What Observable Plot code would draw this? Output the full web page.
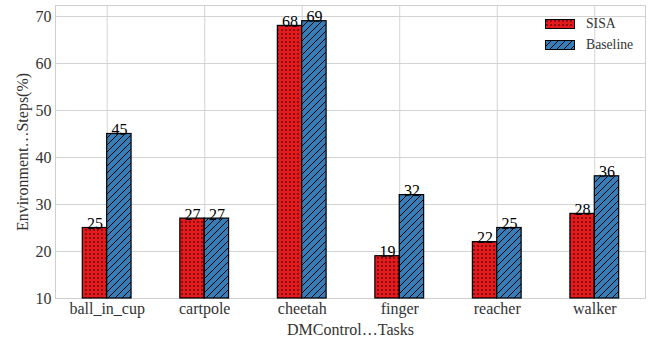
<!DOCTYPE html>
<html><head><meta charset="utf-8">
<script src="https://cdn.jsdelivr.net/npm/d3@7"></script>
<script src="https://cdn.jsdelivr.net/npm/@observablehq/plot@0.6"></script>
<style>
body{margin:0;background:#fff;}
#wrap{position:relative;width:656px;height:337px;font-family:"Liberation Serif","Times New Roman",serif;}
#legend{position:absolute;left:545px;top:13px;font-size:13.7px;color:#333;}
#legend .row{display:flex;align-items:center;height:21px;}
#legend svg{margin-right:11px;}
</style></head><body>
<svg width="0" height="0" style="position:absolute">
  <defs>
    <pattern id="dots" patternUnits="userSpaceOnUse" width="4" height="4">
      <rect width="4" height="4" fill="#e41a1c"/>
      <circle cx="2" cy="2" r="0.75" fill="#000"/>
    </pattern>
    <pattern id="hatch" patternUnits="userSpaceOnUse" width="7" height="7">
      <rect width="7" height="7" fill="#377eb8"/>
      <path d="M-1,1 l2,-2 M0,7 l7,-7 M6,8 l2,-2" stroke="#000" stroke-width="1"/>
    </pattern>
  </defs>
</svg>
<div id="wrap"></div>
<script>
const tasks = ["ball_in_cup","cartpole","cheetah","finger","reacher","walker"];
const methods = ["SISA","Baseline"];
const sisa = [25,27,68,19,22,28];
const baseline = [45,27,69,32,25,36];
const yTicks = [10,20,30,40,50,60,70];
const yLabel = "Environment…Steps(%)";
const xLabel = "DMControl…Tasks";

const fills = {SISA:"url(#dots)", Baseline:"url(#hatch)"};
const offset = {SISA:-1, Baseline:0};
const barWidth = 0.25;
const serif = '"Liberation Serif","Times New Roman",serif';
const rows = tasks.flatMap((t,i)=>[
  {task:t, pos:i, method:"SISA", value:sisa[i]},
  {task:t, pos:i, method:"Baseline", value:baseline[i]}
]);
const left = d => d.pos + offset[d.method]*barWidth;

const bars = methods.map(m => Plot.rectY(rows.filter(d=>d.method===m), {
  x1: left, x2: d => left(d)+barWidth, y1: 10, y2: "value",
  fill: fills[m], stroke: "#000", strokeWidth: 1.2
}));

const plot = Plot.plot({
  width: 656, height: 337,
  marginLeft: 55, marginRight: 11, marginTop: 5, marginBottom: 39,
  style: {fontSize: "16px", fontFamily: serif, background: "#fff", color: "#333"},
  x: {domain: [-0.53, 5.52], ticks: tasks.map((t,i)=>i), tickFormat: i => tasks[i], tickSize: 0, tickPadding: 4, label: null},
  y: {domain: [10, 72.34], ticks: yTicks, tickSize: 0, tickPadding: 4, label: null},
  marks: [
    Plot.ruleY(yTicks, {stroke: "#d3d3d3", strokeWidth: 1}),
    Plot.ruleX(tasks.map((t,i)=>i), {stroke: "#d3d3d3", strokeWidth: 1}),
    Plot.frame({stroke: "#cfcfcf", strokeWidth: 1}),
    ...bars,
    Plot.text(rows, {x: d => left(d)+barWidth/2, y: "value", text: d => String(d.value),
      lineAnchor: "bottom", dy: 1, fill: "#000", fontSize: 16}),
    Plot.text([yLabel], {frameAnchor: "left", textAnchor: "middle", lineAnchor: "middle", rotate: -90, dx: -33, fill: "#333", fontSize: 16}),
    Plot.text([xLabel], {frameAnchor: "bottom", textAnchor: "middle", lineAnchor: "bottom", dy: 36, fill: "#333", fontSize: 16})
  ]
});
d3.select(plot).selectAll("g, text")
  .attr("font-family", null).attr("font-size", null)
  .style("font-family", serif).style("font-size", "16px");
const wrap = document.getElementById("wrap");
wrap.appendChild(plot);

const legend = document.createElement("div");
legend.id = "legend";
legend.innerHTML = methods.map(m =>
  `<div class="row"><svg width="30" height="10"><rect x="0.5" y="0.5" width="29" height="9" fill="${fills[m]}" stroke="#000" stroke-width="1"/></svg><span>${m}</span></div>`
).join("");
wrap.appendChild(legend);
</script>
</body></html>
